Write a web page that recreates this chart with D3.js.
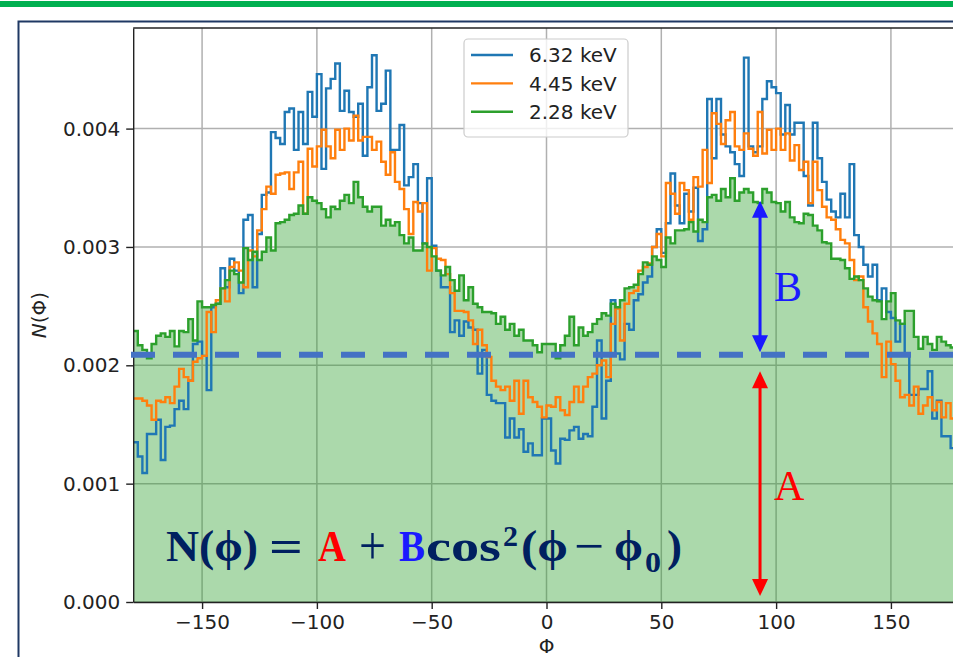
<!DOCTYPE html>
<html>
<head>
<meta charset="utf-8">
<script src="https://cdn.jsdelivr.net/npm/d3@7"></script>
<style>
  body { margin: 0; background: #fff; }
  svg { display: block; font-family: 'DejaVu Sans', sans-serif; }
</style>
</head>
<body>
<svg id="chart" width="953" height="657"></svg>
<script>
const binStart = -180
const binWidth = 2
const xTicks = [-150, -100, -50, 0, 50, 100, 150]
const yTicks = [0, 0.001, 0.002, 0.003, 0.004]
const seriesNames = ['6.32 keV', '4.45 keV', '2.28 keV']
const seriesColors = ['#1f77b4', '#ff7f0e', '#2ca02c']

// bin heights, in units of 1e-3, one per 2 degree bin from -180 to 180
const blue = [
  1.35, 1.23, 1.09, 1.42, 1.42, 1.54, 1.20, 1.48, 1.49, 1.63,
  1.70, 1.63, 1.87, 2.18, 2.20, 2.08, 1.79, 2.49, 2.52, 2.82,
  2.66, 2.90, 2.80, 2.61, 3.23, 3.27, 2.66, 3.11, 3.44, 3.46,
  3.97, 3.92, 3.87, 4.14, 4.17, 3.82, 4.14, 3.87, 4.31, 4.10,
  4.46, 3.66, 4.34, 4.42, 4.55, 4.15, 4.32, 4.14, 4.10, 4.21,
  3.77, 4.35, 4.62, 4.15, 4.21, 4.49, 3.82, 3.82, 4.03, 3.52,
  3.59, 3.70, 3.37, 3.03, 3.58, 3.01, 2.80, 2.66, 2.66, 2.28,
  2.38, 2.25, 2.37, 2.32, 2.30, 1.93, 2.13, 1.75, 1.70, 1.68,
  1.68, 1.39, 1.55, 1.39, 1.46, 1.27, 1.34, 1.24, 1.24, 1.55,
  1.55, 1.28, 1.17, 1.38, 1.37, 1.45, 1.48, 1.38, 1.42, 1.40,
  1.65, 2.21, 1.55, 1.87, 2.55, 2.10, 2.05, 2.35, 2.30, 2.55,
  2.60, 2.70, 2.75, 3.00, 3.15, 2.95, 3.20, 3.62, 3.35, 3.20,
  3.45, 3.30, 3.50, 3.05, 3.15, 4.25, 3.75, 4.25, 3.95, 3.85,
  3.80, 3.70, 3.60, 4.60, 3.85, 3.80, 3.85, 4.25, 4.40, 4.35,
  4.30, 3.95, 4.20, 3.95, 4.05, 4.05, 3.60, 3.35, 4.05, 3.75,
  3.55, 3.40, 3.30, 3.25, 3.45, 3.25, 3.70, 3.10, 3.00, 2.85,
  2.75, 2.85, 2.55, 2.65, 2.45, 2.40, 2.20, 2.35, 2.10, 1.75,
  1.75, 1.80, 1.80, 1.95, 1.55, 1.70, 1.40, 1.40, 1.30, 1.15
]
const orange = [
  1.72, 1.72, 1.70, 1.66, 1.54, 1.70, 1.69, 1.73, 1.68, 1.82,
  1.97, 1.90, 1.87, 2.03, 2.06, 2.08, 2.45, 2.28, 2.55, 2.65,
  2.54, 2.83, 2.87, 2.80, 2.66, 2.97, 2.92, 3.14, 3.32, 3.51,
  3.45, 3.61, 3.62, 3.63, 3.49, 3.63, 3.72, 3.28, 3.83, 3.68,
  3.85, 3.99, 3.85, 3.75, 3.99, 3.82, 4.00, 3.90, 4.11, 3.90,
  3.93, 3.93, 3.82, 3.89, 3.72, 3.61, 3.80, 3.55, 3.49, 3.32,
  3.11, 3.38, 3.30, 3.37, 2.80, 2.99, 2.90, 2.89, 2.77, 2.61,
  2.46, 2.46, 2.45, 2.38, 2.18, 2.30, 2.17, 2.07, 1.87, 1.82,
  1.79, 1.82, 1.70, 1.87, 1.59, 1.87, 1.73, 1.69, 1.65, 1.56,
  1.66, 1.65, 1.73, 1.62, 1.58, 1.69, 1.82, 1.69, 1.82, 1.90,
  1.93, 2.00, 2.04, 1.90, 2.35, 2.48, 2.21, 2.52, 2.61, 2.63,
  2.80, 2.83, 2.86, 3.00, 3.11, 2.92, 3.54, 3.45, 3.28, 3.54,
  3.48, 3.23, 3.59, 3.51, 3.82, 3.54, 4.13, 4.04, 3.87, 4.07,
  4.14, 3.85, 3.82, 3.96, 3.83, 3.77, 4.14, 3.79, 3.99, 3.82,
  4.00, 3.82, 3.96, 3.73, 3.86, 3.65, 3.72, 3.37, 3.72, 3.48,
  3.34, 3.25, 3.23, 3.15, 3.06, 3.03, 2.89, 2.72, 2.75, 2.49,
  2.37, 2.27, 2.18, 1.90, 2.20, 2.01, 1.87, 1.73, 1.75, 1.66,
  1.82, 1.59, 1.66, 1.73, 1.62, 1.69, 1.56, 1.68, 1.55, 1.55
]
const green = [
  2.29, 2.17, 2.13, 2.06, 2.18, 2.25, 2.27, 2.24, 2.29, 2.16,
  2.29, 2.28, 2.39, 2.21, 2.54, 2.49, 2.49, 2.51, 2.52, 2.65,
  2.72, 2.80, 2.77, 2.70, 2.99, 2.89, 2.96, 2.89, 2.96, 3.08,
  2.97, 3.20, 3.21, 3.23, 3.27, 3.28, 3.35, 3.28, 3.42, 3.39,
  3.37, 3.32, 3.25, 3.34, 3.32, 3.39, 3.44, 3.37, 3.55, 3.42,
  3.34, 3.30, 3.34, 3.34, 3.18, 3.23, 3.18, 3.21, 3.10, 3.03,
  3.08, 2.97, 2.97, 3.03, 3.00, 2.92, 2.80, 2.76, 2.83, 2.72,
  2.63, 2.76, 2.55, 2.66, 2.52, 2.49, 2.45, 2.45, 2.44, 2.35,
  2.41, 2.30, 2.35, 2.25, 2.30, 2.21, 2.21, 2.17, 2.11, 2.18,
  2.18, 2.18, 2.06, 2.17, 2.25, 2.41, 2.17, 2.32, 2.25, 2.28,
  2.35, 2.39, 2.44, 2.42, 2.52, 2.49, 2.55, 2.65, 2.66, 2.68,
  2.77, 2.87, 2.85, 2.92, 2.89, 2.83, 3.08, 3.03, 3.14, 3.14,
  3.15, 3.21, 3.13, 3.23, 3.21, 3.42, 3.44, 3.39, 3.49, 3.42,
  3.58, 3.39, 3.46, 3.49, 3.46, 3.38, 3.37, 3.49, 3.46, 3.38,
  3.37, 3.30, 3.38, 3.25, 3.21, 3.20, 3.28, 3.27, 3.18, 3.14,
  3.04, 3.03, 2.90, 2.90, 2.89, 2.82, 2.73, 2.75, 2.72, 2.65,
  2.58, 2.55, 2.54, 2.39, 2.54, 2.61, 2.38, 2.35, 2.46, 2.46,
  2.24, 2.14, 2.24, 2.18, 2.13, 2.24, 2.20, 2.17, 2.15, 2.20
]

// annotation values (fit level A, arrow spans, arrow position)
const levelA = 0.00209
const spanB = [0.00211, 0.00339]
const spanA = [0.00005, 0.00195]
const arrowPhi = 93

const svg = d3.select('#chart')

const plot = { left: 133.2, right: 959.8, top: 28, bottom: 602 }

const x = d3.scaleLinear().domain([-180, 180]).range([plot.left, plot.right])
const y = d3.scaleLinear().domain([0, 0.00485]).range([plot.bottom, plot.top])

// slide decoration
svg.append('rect').attr('x', 0).attr('y', 1).attr('width', 953).attr('height', 6).attr('fill', '#00b050')
svg.append('rect')
  .attr('x', 18.5).attr('y', 21.5).attr('width', 960).attr('height', 700)
  .attr('fill', '#fff').attr('stroke', '#1f3864').attr('stroke-width', 2)

svg.append('clipPath').attr('id', 'plot-clip')
  .append('rect')
  .attr('x', plot.left).attr('y', plot.top)
  .attr('width', plot.right - plot.left).attr('height', plot.bottom - plot.top)

// grid
const grid = svg.append('g').attr('stroke', '#b0b0b0').attr('stroke-width', 1.5)
grid.selectAll('.gx').data(xTicks).enter().append('line')
  .attr('x1', d => x(d)).attr('x2', d => x(d))
  .attr('y1', plot.top).attr('y2', plot.bottom)
grid.selectAll('.gy').data(yTicks).enter().append('line')
  .attr('x1', plot.left).attr('x2', plot.right)
  .attr('y1', d => y(d)).attr('y2', d => y(d))

const toBins = arr => {
  const pts = arr.map((v, i) => ({ phi: binStart + i * binWidth, v: v * 1e-3 }))
  pts.push({ phi: binStart + arr.length * binWidth, v: arr[arr.length - 1] * 1e-3 })
  return pts
}

const stepLine = d3.line().curve(d3.curveStepAfter).x(d => x(d.phi)).y(d => y(d.v))
const stepArea = d3.area().curve(d3.curveStepAfter).x(d => x(d.phi)).y0(y(0)).y1(d => y(d.v))

const holder = svg.append('g').attr('clip-path', 'url(#plot-clip)')

holder.append('path')
  .datum(toBins(green))
  .attr('d', stepArea)
  .attr('fill', seriesColors[2])
  .attr('fill-opacity', 0.4)

holder.selectAll('.hist')
  .data([blue, orange, green])
  .enter()
  .append('path')
  .attr('d', d => stepLine(toBins(d)))
  .attr('fill', 'none')
  .attr('stroke', (d, i) => seriesColors[i])
  .attr('stroke-width', 2.4)

// axes
const yAxis = svg.append('g')
  .attr('transform', `translate(${plot.left},0)`)
  .call(d3.axisLeft(y).tickValues(yTicks).tickFormat(d3.format('.3f')).tickSize(7).tickPadding(6).tickSizeOuter(0))
const xAxis = svg.append('g')
  .attr('transform', `translate(0,${plot.bottom})`)
  .call(d3.axisBottom(x).tickValues(xTicks).tickFormat(d3.format('d')).tickSize(7).tickPadding(6).tickSizeOuter(0))

for (const ax of [yAxis, xAxis]) {
  ax.attr('font-size', 20).attr('font-family', 'DejaVu Sans')
  ax.selectAll('text').attr('fill', '#222')
  ax.selectAll('line').attr('stroke', '#222').attr('stroke-width', 1.4)
  ax.select('.domain').attr('stroke', '#222').attr('stroke-width', 1.4)
}
svg.append('line')
  .attr('x1', plot.left).attr('x2', plot.right)
  .attr('y1', plot.top).attr('y2', plot.top)
  .attr('stroke', '#222').attr('stroke-width', 1.4)

svg.append('text')
  .attr('transform', 'translate(46,315) rotate(-90)')
  .attr('text-anchor', 'middle')
  .attr('font-size', 20)
  .attr('fill', '#222')
  .html('<tspan font-style="italic">N</tspan>(Φ)')

svg.append('text')
  .attr('x', x(0)).attr('y', 653)
  .attr('text-anchor', 'middle')
  .attr('font-size', 20)
  .attr('fill', '#222')
  .text('Φ')

// legend
const legend = svg.append('g')
legend.append('rect')
  .attr('x', 464).attr('y', 39).attr('width', 164).attr('height', 98).attr('rx', 4)
  .attr('fill', '#fff').attr('fill-opacity', 0.8)
  .attr('stroke', '#cccccc').attr('stroke-width', 1.2)
const rows = legend.selectAll('.row').data(seriesNames).enter().append('g')
  .attr('transform', (d, i) => `translate(0,${55 + i * 28.4})`)
rows.append('line')
  .attr('x1', 471).attr('x2', 513)
  .attr('stroke', (d, i) => seriesColors[i]).attr('stroke-width', 2.4)
rows.append('text')
  .attr('x', 529).attr('dy', '0.36em')
  .attr('font-size', 20).attr('fill', '#222')
  .text(d => d)

// dashed level A
svg.append('line')
  .attr('x1', 131).attr('x2', 953)
  .attr('y1', y(levelA)).attr('y2', y(levelA))
  .attr('stroke', '#4472c4').attr('stroke-width', 6)
  .attr('stroke-dasharray', '24 18')

// double arrows
function doubleArrow(span, color) {
  const ax = x(arrowPhi)
  const y1 = y(span[0])
  const y2 = y(span[1])
  const head = 17
  const half = 8
  const g = svg.append('g').attr('fill', color).attr('stroke', color)
  g.append('line')
    .attr('x1', ax).attr('x2', ax)
    .attr('y1', y1 - head + 2).attr('y2', y2 + head - 2)
    .attr('stroke-width', 3)
  g.append('path')
    .attr('stroke', 'none')
    .attr('d', `M${ax},${y2}L${ax - half},${y2 + head}L${ax + half},${y2 + head}Z` +
      `M${ax},${y1}L${ax - half},${y1 - head}L${ax + half},${y1 - head}Z`)
}
doubleArrow(spanB, '#1a1aff')
doubleArrow(spanA, '#ff0000')

svg.append('text')
  .attr('x', 774).attr('y', 301)
  .attr('font-family', 'Liberation Serif').attr('font-size', 42)
  .attr('fill', '#1a1aff')
  .text('B')
svg.append('text')
  .attr('x', 774).attr('y', 500)
  .attr('font-family', 'Liberation Serif').attr('font-size', 42)
  .attr('fill', '#ff0000')
  .text('A')

// formula N(phi) = A + B cos^2(phi - phi0), each piece fitted to its width
const parts = [
  { t: 'N(ϕ)', x: 166, w: 92, y: 561 },
  { t: '=', x: 269, w: 34, y: 561 },
  { t: 'A', x: 318, w: 28, y: 561, c: '#ff0000' },
  { t: '+', x: 359, w: 27, y: 564, fs: 54, fw: 'normal' },
  { t: 'B', x: 399, w: 26, y: 561, c: '#1a1aff' },
  { t: 'cos', x: 426, w: 75, y: 561 },
  { t: '2', x: 503, w: 15, y: 546, fs: 29 },
  { t: '(ϕ', x: 521, w: 47, y: 561 },
  { t: '−', x: 574, w: 30, y: 564, fs: 54, fw: 'normal' },
  { t: 'ϕ', x: 614, w: 29, y: 561 },
  { t: '0', x: 645, w: 16, y: 572, fs: 29 },
  { t: ')', x: 667, w: 15, y: 561 }
]
svg.append('g')
  .attr('font-family', 'Liberation Serif')
  .attr('font-weight', 'bold')
  .attr('fill', '#002060')
  .selectAll('text')
  .data(parts)
  .enter()
  .append('text')
  .attr('x', d => d.x)
  .attr('y', d => d.y)
  .attr('font-size', d => d.fs || 44)
  .attr('font-weight', d => d.fw || null)
  .attr('fill', d => d.c || null)
  .attr('textLength', d => d.w)
  .attr('lengthAdjust', 'spacingAndGlyphs')
  .text(d => d.t)
</script>
</body>
</html>
